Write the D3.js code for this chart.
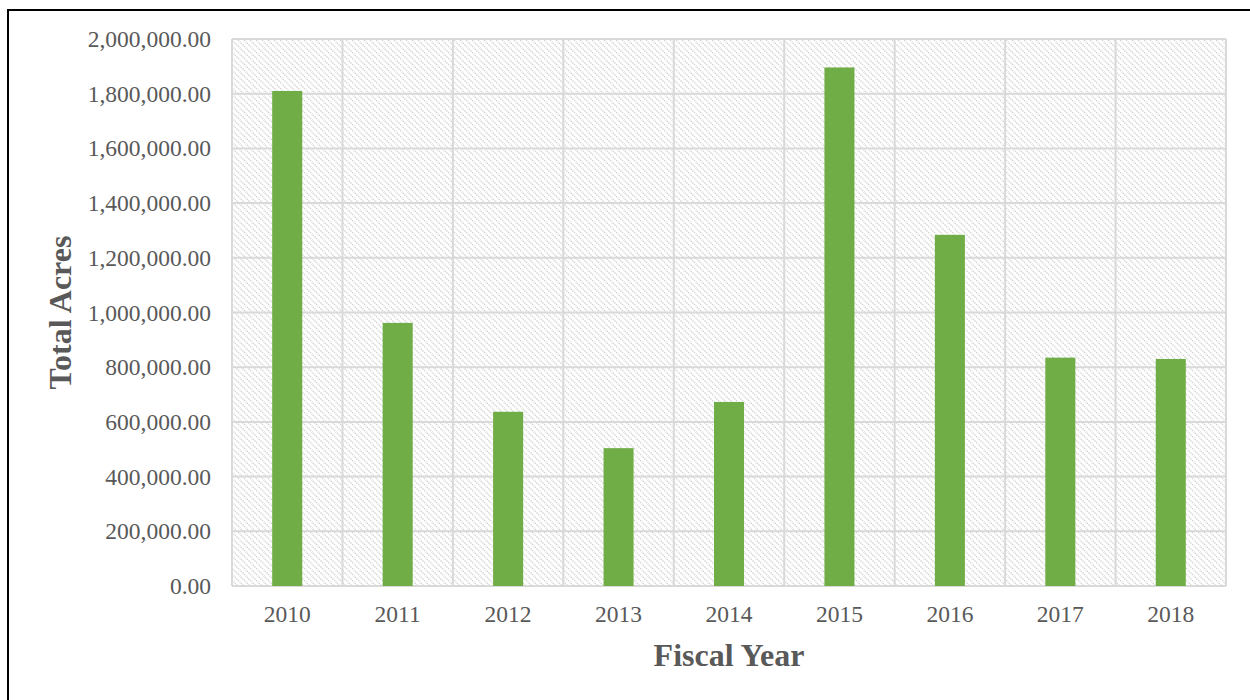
<!DOCTYPE html>
<html>
<head>
<meta charset="utf-8">
<script src="https://cdn.jsdelivr.net/npm/d3@7"></script>
<style>
  html, body { margin: 0; padding: 0; background: #fff; }
  svg { display: block; }
</style>
</head>
<body>
<script>
// Total acres by fiscal year
const years = ["2010", "2011", "2012", "2013", "2014", "2015", "2016", "2017", "2018"];
const acres = [1810000, 962000, 637000, 504000, 673000, 1896000, 1284000, 835000, 830000];
const yTicks = [0, 200000, 400000, 600000, 800000, 1000000, 1200000, 1400000, 1600000, 1800000, 2000000];

const W = 1250, H = 700;
const plot = { left: 232, right: 1226, top: 39, bottom: 586 };
const serif = "'Liberation Serif', 'Times New Roman', serif";

const svg = d3.select("body").append("svg")
  .attr("width", W).attr("height", H);

// Diagonal hatch fill for the plot area
const defs = svg.append("defs");
const pat = defs.append("pattern")
  .attr("id", "hatch")
  .attr("patternUnits", "userSpaceOnUse")
  .attr("width", 6).attr("height", 6);
pat.append("rect").attr("width", 6).attr("height", 6).attr("fill", "#fff");
pat.append("path")
  .attr("d", "M-1,-1 L7,7 M-4,2 L2,8 M4,-2 L10,4")
  .attr("stroke", "#d3d3d3")
  .attr("stroke-width", 1.4)
  .attr("stroke-dasharray", "1.4,1");

// Outer frame
svg.append("rect")
  .attr("x", 8).attr("y", 10)
  .attr("width", W + 10).attr("height", H + 10)
  .attr("fill", "none")
  .attr("stroke", "#000")
  .attr("stroke-width", 2);

const x = d3.scaleBand()
  .domain(years)
  .range([plot.left, plot.right])
  .paddingInner(0.728)
  .paddingOuter(0.364);

const y = d3.scaleLinear()
  .domain([0, 2000000])
  .range([plot.bottom, plot.top]);

// Plot background
svg.append("rect")
  .attr("x", plot.left).attr("y", plot.top)
  .attr("width", plot.right - plot.left)
  .attr("height", plot.bottom - plot.top)
  .attr("fill", "url(#hatch)");

// Horizontal gridlines
svg.append("g")
  .selectAll("line")
  .data(yTicks)
  .join("line")
  .attr("x1", plot.left).attr("x2", plot.right)
  .attr("y1", d => y(d)).attr("y2", d => y(d))
  .attr("stroke", "#d9d9d9")
  .attr("stroke-width", 2);

// Vertical gridlines at category boundaries
const step = x.step();
const bounds = d3.range(years.length + 1).map(i => plot.left + i * step);
svg.append("g")
  .selectAll("line")
  .data(bounds)
  .join("line")
  .attr("x1", d => d).attr("x2", d => d)
  .attr("y1", plot.top).attr("y2", plot.bottom)
  .attr("stroke", "#d9d9d9")
  .attr("stroke-width", 2);

// Bars
svg.append("g")
  .selectAll("rect")
  .data(years.map((yr, i) => ({ yr, v: acres[i] })))
  .join("rect")
  .attr("x", d => x(d.yr))
  .attr("width", x.bandwidth())
  .attr("y", d => y(d.v))
  .attr("height", d => y(0) - y(d.v))
  .attr("fill", "#70ad47");

const fmt = d3.format(",.2f");

// Y axis labels
const yAxis = d3.axisLeft(y)
  .tickValues(yTicks)
  .tickFormat(fmt)
  .tickSize(0)
  .tickPadding(21);
const gy = svg.append("g")
  .attr("transform", `translate(${plot.left},0)`)
  .call(yAxis);
gy.select(".domain").remove();
gy.selectAll("text")
  .attr("font-family", serif)
  .attr("font-size", 23.5)
  .attr("fill", "#595959");

// X axis labels
const xAxis = d3.axisBottom(x).tickSize(0).tickPadding(19);
const gx = svg.append("g")
  .attr("transform", `translate(0,${plot.bottom})`)
  .call(xAxis);
gx.select(".domain").remove();
gx.selectAll("text")
  .attr("font-family", serif)
  .attr("font-size", 23.5)
  .attr("fill", "#595959");

// Axis titles
svg.append("text")
  .attr("x", (plot.left + plot.right) / 2)
  .attr("y", 666)
  .attr("text-anchor", "middle")
  .attr("font-family", serif)
  .attr("font-weight", "bold")
  .attr("font-size", 32)
  .attr("fill", "#595959")
  .text("Fiscal Year");

svg.append("text")
  .attr("transform", `translate(71,${(plot.top + plot.bottom) / 2}) rotate(-90)`)
  .attr("text-anchor", "middle")
  .attr("font-family", serif)
  .attr("font-weight", "bold")
  .attr("font-size", 32)
  .attr("fill", "#595959")
  .text("Total Acres");
</script>
</body>
</html>
